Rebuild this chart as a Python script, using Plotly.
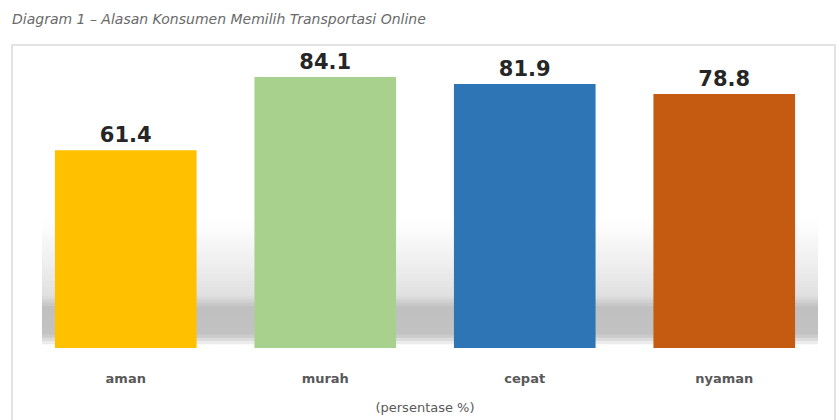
import plotly.graph_objects as go
import numpy as np

categories = ["aman", "murah", "cepat", "nyaman"]
values = [61.4, 84.1, 81.9, 78.8]
bar_colors = ["#FFC000", "#A9D18E", "#2E75B6", "#C55A11"]
title_text = "Diagram 1 \u2013 Alasan Konsumen Memilih Transportasi Online"
axis_title = "(persentase %)"

positions = list(range(len(categories)))

# soft floor shadow band behind the bars, built from overlapping horizontal strips
stops_y = [1.5, 4.5, 13.0, 16.5, 26.0, 40.0]
stops_g = [244, 194, 192, 224, 238, 255]
edges = np.linspace(1.5, 40.0, 40)
shapes = []
for lo, hi in zip(edges[:-1], edges[1:]):
    g = int(round(np.interp((lo + hi) / 2, stops_y, stops_g)))
    shapes.append(dict(type="rect", xref="x", yref="y",
                       x0=-0.42, x1=3.47, y0=lo - 0.3, y1=hi + 0.3,
                       line=dict(width=0), fillcolor=f"rgb({g},{g},{g})",
                       layer="below"))
shapes.append(dict(type="rect", xref="paper", yref="paper",
                   x0=-0.0175, x1=1.0138, y0=-0.6, y1=1.045,
                   line=dict(color="#e3e3e3", width=2), fillcolor="rgba(0,0,0,0)",
                   layer="below"))

fig = go.Figure()

fig.add_trace(go.Bar(
    x=positions, y=values,
    marker=dict(color=bar_colors, line=dict(width=0)),
    width=0.71,
    text=[f"{v:.1f}" for v in values],
    textposition="outside", cliponaxis=False,
    textfont=dict(family="DejaVu Sans", size=21, color="#262626", weight="bold"),
    showlegend=False,
))

fig.update_layout(
    width=840, height=420,
    margin=dict(l=26, r=16, t=58, b=72),
    paper_bgcolor="white", plot_bgcolor="white",
    xaxis=dict(
        range=[-0.5, 3.5], showgrid=False, zeroline=False, showline=False,
        tickmode="array", tickvals=positions, ticktext=categories,
        ticks="outside", ticklen=0, ticklabelstandoff=18, automargin=False,
        tickfont=dict(family="DejaVu Sans", size=13, color="#595959", weight="bold"),
        title=dict(text=axis_title, standoff=18,
                   font=dict(family="DejaVu Sans", size=13, color="#595959")),
    ),
    yaxis=dict(range=[0, 90], visible=False),
    shapes=shapes,
    annotations=[dict(text=title_text, xref="paper", yref="paper",
                      x=-0.02, y=1.135, xanchor="left", yanchor="middle",
                      showarrow=False,
                      font=dict(family="DejaVu Sans", size=14, color="#6a6a6a",
                                style="italic"))],
)

fig.write_html("out.html")
